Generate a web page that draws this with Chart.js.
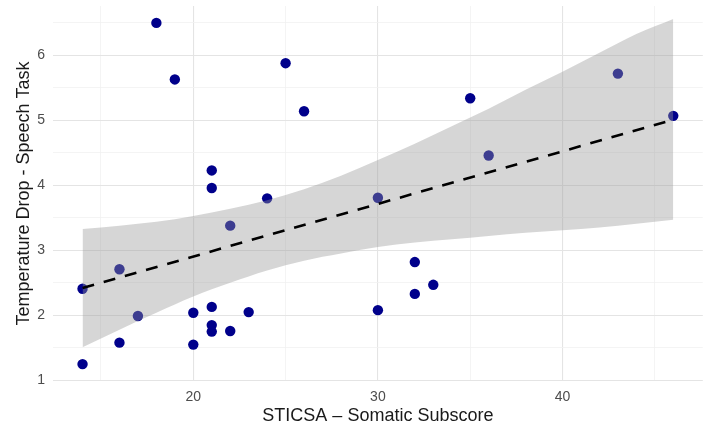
<!DOCTYPE html>
<html>
<head>
<meta charset="utf-8">
<script src="https://cdn.jsdelivr.net/npm/chart.js@4.4.1/dist/chart.umd.min.js"></script>
<style>
  html, body { margin: 0; padding: 0; background: #fff; }
  #wrap { width: 708px; height: 425px; }
</style>
</head>
<body>
<div id="wrap"><canvas id="chart-scatter" width="708" height="425"></canvas></div>
<script>
// observed scores (STICSA somatic) and temperature drop
const somatic = [18, 19, 25, 26, 21, 21, 24, 35, 43, 46, 36, 30, 22, 16, 14, 17, 20, 21, 23, 21, 21, 22, 16, 20, 14, 32, 32, 33, 30];
const tempDrop = [6.50, 5.63, 5.88, 5.14, 4.23, 3.96, 3.80, 5.34, 5.72, 5.07, 4.46, 3.81, 3.38, 2.71, 2.41, 1.99, 2.04, 2.13, 2.05, 1.85, 1.75, 1.76, 1.58, 1.55, 1.25, 2.82, 2.33, 2.47, 2.08];

// fitted line ends
const fitX = [14, 46];
const fitY = [2.42, 5.01];

// confidence band edges
const bandX = [14, 16, 18, 20, 22, 24, 26, 28, 30, 32, 34, 36, 38, 40, 42, 44, 46];
const bandUpper = [3.33, 3.38, 3.44, 3.53, 3.64, 3.77, 3.94, 4.15, 4.39, 4.64, 4.91, 5.18, 5.47, 5.75, 6.04, 6.33, 6.56];
const bandLower = [1.51, 1.78, 2.04, 2.29, 2.50, 2.69, 2.84, 2.95, 3.05, 3.12, 3.17, 3.22, 3.27, 3.31, 3.35, 3.41, 3.47];

// axis ticks (majors labelled, minors only gridlines)
const xTicks = [15, 20, 25, 30, 35, 40, 45];
const xLabels = [20, 30, 40];
const yTicks = [1, 1.5, 2, 2.5, 3, 3.5, 4, 4.5, 5, 5.5, 6, 6.5];
const yLabels = [1, 2, 3, 4, 5, 6];

const FONT = '"Liberation Sans", Arial, Helvetica, sans-serif';

const toXY = (xs, ys) => xs.map((x, i) => ({ x, y: ys[i] }));

function gridStyle(labels) {
  return {
    color: ctx => labels.includes(ctx.tick.value) ? '#e4e4e4' : '#f1f1f1',
    lineWidth: ctx => labels.includes(ctx.tick.value) ? 1.1 : 0.8,
    drawTicks: false
  };
}

const ctx = document.getElementById('chart-scatter');
new Chart(ctx, {
  type: 'scatter',
  data: {
    datasets: [
      {
        type: 'line',
        label: 'fit',
        data: toXY(fitX, fitY),
        borderColor: '#000',
        borderWidth: 2.6,
        borderDash: [12, 10],
        pointRadius: 0,
        fill: false,
        order: 0
      },
      {
        type: 'line',
        label: 'upper',
        data: toXY(bandX, bandUpper),
        borderWidth: 0,
        borderColor: 'rgba(0,0,0,0)',
        backgroundColor: 'rgba(153,153,153,0.4)',
        pointRadius: 0,
        cubicInterpolationMode: 'monotone',
        fill: '+1',
        order: 1
      },
      {
        type: 'line',
        label: 'lower',
        data: toXY(bandX, bandLower),
        borderWidth: 0,
        borderColor: 'rgba(0,0,0,0)',
        pointRadius: 0,
        cubicInterpolationMode: 'monotone',
        fill: false,
        order: 1
      },
      {
        label: 'points',
        data: toXY(somatic, tempDrop),
        backgroundColor: '#00008B',
        borderColor: '#00008B',
        borderWidth: 0,
        pointRadius: 5.2,
        order: 2
      }
    ]
  },
  options: {
    responsive: false,
    animation: false,
    devicePixelRatio: 1,
    layout: { padding: { top: 6, right: 3, bottom: 0, left: 0 } },
    plugins: {
      legend: { display: false },
      tooltip: { enabled: false }
    },
    scales: {
      x: {
        type: 'linear',
        min: 12.4,
        max: 47.6,
        border: { display: false },
        grid: gridStyle(xLabels),
        afterBuildTicks: s => { s.ticks = xTicks.map(v => ({ value: v })); },
        afterFit: s => { s.height = 44; s.paddingLeft = 0; s.paddingRight = 0; },
        ticks: {
          color: '#4d4d4d',
          font: { family: FONT, size: 14 },
          padding: 8,
          maxRotation: 0,
          autoSkip: false,
          callback: v => xLabels.includes(v) ? String(v) : ''
        },
        title: {
          display: true,
          text: 'STICSA – Somatic Subscore',
          color: '#1a1a1a',
          font: { family: FONT, size: 18 },
          padding: { top: 0, bottom: -2 }
        }
      },
      y: {
        type: 'linear',
        min: 0.99,
        max: 6.76,
        border: { display: false },
        grid: gridStyle(yLabels),
        afterBuildTicks: s => { s.ticks = yTicks.map(v => ({ value: v })); },
        afterFit: s => { s.width = 53; s.paddingTop = 0; s.paddingBottom = 0; },
        ticks: {
          color: '#4d4d4d',
          font: { family: FONT, size: 14 },
          padding: 8,
          autoSkip: false,
          callback: v => yLabels.includes(v) ? String(v) : ''
        },
        title: {
          display: true,
          text: 'Temperature Drop - Speech Task',
          color: '#1a1a1a',
          font: { family: FONT, size: 18 },
          padding: { top: 13, bottom: 0 }
        }
      }
    }
  }
});
</script>
</body>
</html>
